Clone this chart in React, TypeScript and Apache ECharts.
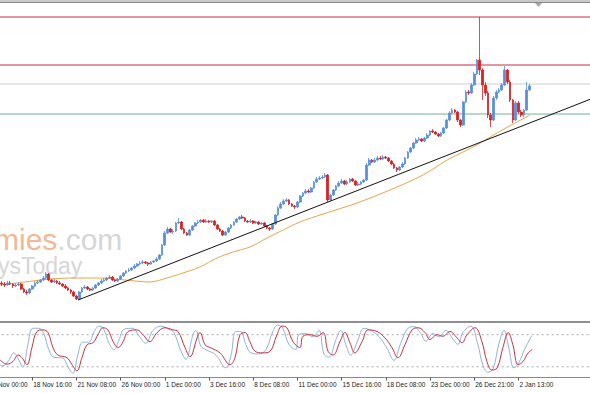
import React, { useEffect, useRef } from "react";
import * as echarts from "echarts";

const tickLabels = [
  "16 Nov 00:00", "18 Nov 16:00", "21 Nov 08:00", "26 Nov 00:00", "1 Dec 00:00",
  "3 Dec 16:00", "8 Dec 08:00", "11 Dec 00:00", "15 Dec 16:00", "18 Dec 08:00",
  "23 Dec 00:00", "26 Dec 21:00", "2 Jan 13:00",
];
const TICK_STEP = 16;
const SLOT_COUNT = 219;
const FIRST_CANDLE = 5;

// [open, close, low, high]
const ohlc: number[][] = [
  [35,34,32,37],[34,33,31,36],[33,35,32,37],[35,34,33,37],[34,32,30,35],
  [32,33,31,35],[33,34,32,36],[34,29,28,35],[29,26,25,30],[26,25,23,28],
  [25,29,24,30],[29,32,28,33],[32,35,31,37],[35,36,34,38],[36,38,35,39],
  [38,40,37,42],[40,44,39,46],[44,38,37,45],[38,36,35,39],[36,37,35,39],
  [37,35,34,38],[35,34,33,37],[34,32,31,35],[32,30,29,34],[30,28,27,31],
  [28,26,24,29],[26,22,21,27],[22,19,18,23],[19,26,18,27],[26,30,25,31],
  [30,31,29,33],[31,29,28,32],[29,28,27,30],[28,30,27,31],[30,33,29,34],
  [33,35,32,36],[35,37,34,39],[37,38,36,40],[38,40,37,41],[40,41,39,43],
  [41,38,37,42],[38,37,36,39],[37,39,36,40],[39,42,38,43],[42,45,41,46],
  [45,47,44,48],[47,48,46,50],[48,50,47,51],[50,52,49,54],[52,54,51,55],
  [54,55,53,57],[55,56,54,58],[56,55,54,57],[55,54,52,56],[54,56,53,57],
  [56,57,55,58],[57,59,56,61],[59,63,58,64],[63,73,62,74],[73,85,72,87],
  [85,89,84,91],[89,86,85,90],[86,87,84,89],[87,95,86,96],[95,96,94,100],
  [96,89,88,97],[89,85,84,90],[85,83,82,86],[83,88,82,89],[88,92,87,93],
  [92,95,91,96],[95,96,94,98],[96,98,95,99],[98,96,95,99],[96,97,95,99],
  [97,96,95,98],[96,97,95,98],[97,93,92,98],[93,89,88,94],[89,87,86,90],
  [87,83,82,88],[83,86,82,87],[86,90,85,91],[90,93,89,94],[93,96,92,97],
  [96,99,95,100],[99,101,98,102],[101,100,99,103],[100,97,96,101],[97,96,95,98],
  [96,97,95,99],[97,95,94,98],[95,96,94,97],[96,94,93,97],[94,95,93,96],
  [95,92,91,96],[92,90,89,93],[90,89,87,91],[89,94,88,95],[94,103,93,104],
  [103,110,102,112],[110,114,109,116],[114,117,113,119],[117,118,116,120],[118,114,113,119],
  [114,112,111,115],[112,111,109,113],[111,116,110,117],[116,122,115,123],[122,125,121,126],
  [125,127,124,129],[127,126,125,129],[126,130,125,131],[130,136,129,137],[136,139,135,141],
  [139,140,138,142],[140,141,139,143],[141,143,140,145],[143,118,116,144],[118,123,117,124],
  [123,128,122,129],[128,132,127,133],[132,135,131,137],[135,137,134,139],[137,134,133,138],
  [134,136,133,138],[136,139,135,140],[139,137,136,140],[137,133,132,138],[133,134,132,136],
  [134,136,133,137],[136,138,135,139],[138,153,137,155],[153,158,152,160],[158,156,155,159],
  [156,158,155,160],[158,160,157,162],[160,159,158,162],[159,161,158,163],[161,160,159,162],
  [160,157,156,161],[157,154,153,158],[154,150,149,155],[150,148,146,151],[148,151,147,152],
  [151,154,150,156],[154,160,153,161],[160,166,159,167],[166,170,165,171],[170,175,169,176],
  [175,178,174,180],[178,179,177,181],[179,177,176,180],[177,180,176,181],[180,183,179,185],
  [183,187,182,188],[187,186,185,189],[186,184,183,187],[184,182,181,185],[182,185,181,186],
  [185,190,184,191],[190,198,189,199],[198,205,197,207],[205,208,204,210],[208,206,205,209],
  [206,198,196,207],[198,193,191,199],[193,216,192,217],[216,226,215,228],[226,225,223,228],
  [225,233,224,235],[233,244,232,246],[244,258,243,259],[258,248,243,301],[248,233,218,250],
  [233,225,222,236],[225,203,200,227],[203,198,191,205],[198,220,197,222],[220,226,218,228],
  [226,228,225,230],[228,233,227,235],[233,248,232,252],[248,236,234,249],[236,218,216,238],
  [218,198,195,219],[198,215,197,217],[215,206,204,217],[206,203,201,208],[203,208,201,209],
  [208,228,207,236],[228,232,227,234],
];

const maLine: number[][] = [
  [4.3,33],[13.4,36],[22.4,39],[31.5,40],[40.5,40],[49.6,38],[58.6,36],[64.8,40],
  [70.6,45],[76.7,51],[82.9,60],[88.7,66],[94.8,71],[101,80],[106.8,88],[112.9,96],
  [121.3,104],[133.6,115],[145.5,128],[157.5,143],[166.2,158],[175.6,171],[184.3,185],
  [191.5,196],[196.2,203],
];

const trendLine: number[][] = [[32.6, 18], [218.5, 219.3]];

const stochK: number[][] = [
  [2.8,30],[5.4,22],[7.5,32],[9.4,46],[10.8,36],[12.6,20],[14.4,60],[16.2,92],[18.4,92],
  [20.2,82],[22.0,52],[23.8,38],[27.1,36],[28.9,20],[30.7,8],[32.5,42],[34.3,66],[36.5,66],
  [38.3,84],[40.1,96],[41.9,90],[43.8,64],[45.6,52],[47.4,70],[49.2,90],[52.4,92],[54.6,78],
  [57.1,64],[59.7,88],[62.6,96],[65.5,90],[67.3,84],[69.8,50],[71.6,34],[74.2,80],[75.2,88],
  [77.1,58],[78.9,52],[82.5,42],[86.1,18],[87.9,40],[89.7,86],[91.5,86],[93.3,62],[95.2,46],
  [98.0,44],[100.6,52],[103.1,86],[104.9,98],[106.7,92],[108.9,62],[111.4,52],[112.5,80],
  [115.1,82],[117.6,76],[119.8,88],[121.6,44],[123.4,38],[125.9,70],[127.7,88],[129.5,62],
  [131.3,42],[133.9,70],[136.1,92],[139.3,86],[142.2,72],[144.7,52],[146.9,32],[149.4,64],
  [152.0,92],[154.2,95],[156.7,82],[158.5,68],[161.0,82],[163.2,76],[165.7,88],[168.3,72],
  [170.1,62],[171.9,84],[174.8,96],[177.3,62],[179.1,24],[180.9,10],[182.8,16],[184.9,62],
  [186.8,88],[188.5,56],[190.4,18],[192.2,28],[194.0,50],[196.8,78],
];

const stochD: number[][] = [
  [4.3,33],[6.9,25],[9.0,30],[10.9,42],[12.3,37],[14.1,24],[15.9,56],[17.7,86],[19.9,89],
  [21.7,84],[23.5,56],[25.3,42],[28.6,37],[30.4,24],[32.2,12.5],[34.0,37],[35.8,61],[38.0,65],
  [39.8,80],[41.6,93],[43.4,89],[45.3,67],[47.1,56],[48.9,67],[50.7,86],[53.9,89],[56.1,80],
  [58.6,67],[61.2,84],[64.1,93],[67.0,89],[68.8,86],[71.3,56],[73.1,39],[75.7,74],[76.7,84],
  [78.6,61],[80.4,56],[84.0,46],[87.6,24],[89.4,37],[91.2,80],[93.0,84],[94.8,67],[96.7,49],
  [99.5,46],[102.1,49],[104.6,80],[106.4,96],[108.2,93],[110.4,67],[112.9,56],[114.0,77],
  [116.6,80],[119.1,77],[121.3,84],[123.1,49],[124.9,42],[127.4,67],[129.2,84],[131.0,65],
  [132.8,46],[135.4,67],[137.6,89],[140.8,86],[143.7,74],[146.2,56],[148.4,37],[150.9,61],
  [153.5,89],[155.7,93],[158.2,84],[160.0,71],[162.5,80],[164.7,77],[167.2,86],[169.8,74],
  [171.6,65],[173.4,80],[176.3,93],[178.8,67],[180.6,30],[182.4,14],[184.3,18],[186.4,56],
  [188.3,84],[190.0,61],[191.9,24],[193.7,30],[195.5,46],[197.0,52],
];

const levelValues = [301, 253, 234, 204];
const levelColors = ["#cc2a45", "#cc2a45", "#cfcfcf", "#72b493"];
const stochLevels = [80, 20];

export default function App() {
  const ref = useRef<HTMLDivElement>(null);

  useEffect(() => {
    document.body.style.margin = "0";
    const chart = echarts.init(ref.current!, undefined, { renderer: "svg" });
    const isTick = (i: number) => i % TICK_STEP === 0 && i / TICK_STEP < tickLabels.length;
    const categories = Array.from({ length: SLOT_COUNT }, (_, i) =>
      isTick(i) ? tickLabels[i / TICK_STEP] : `s${i}`
    );
    const candleData = ohlc.map((d, k) => [FIRST_CANDLE + k, d[0], d[1], d[2], d[3]]);
    const band = 2.7625;
    const gridLeft = -12 - band / 2;
    const gridWidth = band * SLOT_COUNT;
    const xMin = -0.5;
    const xMax = SLOT_COUNT - 0.5;

    const levelSeries = levelValues.map((v, i) => ({
      type: "line",
      xAxisIndex: 1,
      yAxisIndex: 0,
      data: [[xMin, v], [xMax, v]],
      symbol: "none",
      silent: true,
      lineStyle: { color: levelColors[i], width: 1 },
      z: 1,
    }));
    const stochLevelSeries = stochLevels.map((v) => ({
      type: "line",
      xAxisIndex: 3,
      yAxisIndex: 1,
      data: [[xMin, v], [xMax, v]],
      symbol: "none",
      silent: true,
      lineStyle: { color: "#a8a8a8", width: 1, type: [2, 3] },
      z: 1,
    }));

    chart.setOption({
      animation: false,
      backgroundColor: "#ffffff",
      grid: [
        { left: gridLeft, width: gridWidth, top: 3, height: 315, outerBoundsMode: "none", containLabel: false },
        { left: gridLeft, width: gridWidth, top: 324, height: 53.5, outerBoundsMode: "none", containLabel: false },
      ],
      xAxis: [
        { type: "category", gridIndex: 0, data: categories, show: false, boundaryGap: true },
        { type: "value", gridIndex: 0, min: xMin, max: xMax, show: false },
        {
          type: "category",
          gridIndex: 1,
          data: categories,
          boundaryGap: true,
          axisLine: { show: true, lineStyle: { color: "#8a8a8a", width: 1 } },
          axisTick: {
            show: true,
            alignWithLabel: true,
            interval: (i: number) => isTick(i),
            length: 3,
            lineStyle: { color: "#555" },
          },
          axisLabel: {
            interval: (i: number) => isTick(i),
            align: "left",
            margin: 3,
            padding: [0, 0, 0, 1],
            fontSize: 6.5,
            fontFamily: "Liberation Sans",
            color: "#222",
            hideOverlap: false,
          },
          splitLine: { show: false },
        },
        { type: "value", gridIndex: 1, min: xMin, max: xMax, show: false },
      ],
      yAxis: [
        { type: "value", gridIndex: 0, min: 0, max: 315, show: false, splitLine: { show: false } },
        { type: "value", gridIndex: 1, min: 0, max: 100, show: false, splitLine: { show: false } },
      ],
      graphic: [
        { type: "rect", shape: { x: 0, y: 0, width: 590, height: 2 }, style: { fill: "#c8c8c8" }, z: 0 },
        { type: "line", shape: { x1: 0, y1: 2.5, x2: 590, y2: 2.5 }, style: { stroke: "#8a8a8a", lineWidth: 1 }, z: 0 },
        { type: "polygon", shape: { points: [[535, 3], [542, 3], [538.5, 7]] }, style: { fill: "#a8a8a8" }, z: 5 },
        { type: "rect", shape: { x: 0, y: 321, width: 590, height: 2 }, style: { fill: "#8f8f8f" }, z: 0 },
        {
          type: "text",
          x: -6,
          y: 228,
          z: 0,
          style: {
            text: "{o|mies}{g|.com}",
            verticalAlign: "top",
            rich: {
              o: { fontSize: 30, lineHeight: 23, fontFamily: "Liberation Sans", fill: "#f4b893" },
              g: { fontSize: 30, lineHeight: 23, fontFamily: "Liberation Sans", fill: "#d6d6d6" },
            },
          },
        },
        {
          type: "text",
          x: -2,
          y: 256,
          z: 0,
          style: {
            text: "ysToday",
            fontSize: 23,
            lineHeight: 20,
            fontFamily: "Liberation Sans",
            fill: "#d6d6d6",
            verticalAlign: "top",
          },
        },
      ],
      series: [
        ...levelSeries,
        ...stochLevelSeries,
        {
          type: "candlestick",
          xAxisIndex: 0,
          yAxisIndex: 0,
          data: candleData,
          encode: { x: 0, y: [1, 2, 3, 4] },
          barWidth: 2.2,
          itemStyle: {
            color: "#5a8fdc",
            color0: "#dc2020",
            borderColor: "#5a8fdc",
            borderColor0: "#dc2020",
            borderWidth: 0.8,
          },
          z: 3,
        },
        {
          type: "line",
          xAxisIndex: 1,
          yAxisIndex: 0,
          data: maLine,
          symbol: "none",
          smooth: 0.3,
          lineStyle: { color: "#eaa44c", width: 1 },
          z: 2,
        },
        {
          type: "line",
          xAxisIndex: 1,
          yAxisIndex: 0,
          data: trendLine,
          symbol: "none",
          lineStyle: { color: "#111111", width: 1 },
          z: 4,
        },
        {
          type: "line",
          xAxisIndex: 3,
          yAxisIndex: 1,
          data: stochK,
          symbol: "none",
          smooth: 0.4,
          lineStyle: { color: "#8fb2dc", width: 1 },
        },
        {
          type: "line",
          xAxisIndex: 3,
          yAxisIndex: 1,
          data: stochD,
          symbol: "none",
          smooth: 0.4,
          lineStyle: { color: "#c8323c", width: 1 },
        },
      ],
    });
    return () => chart.dispose();
  }, []);

  return (
    <div
      ref={ref}
      style={{ position: "fixed", left: 0, top: 0, width: 590, height: 393, background: "#fff" }}
    />
  );
}
